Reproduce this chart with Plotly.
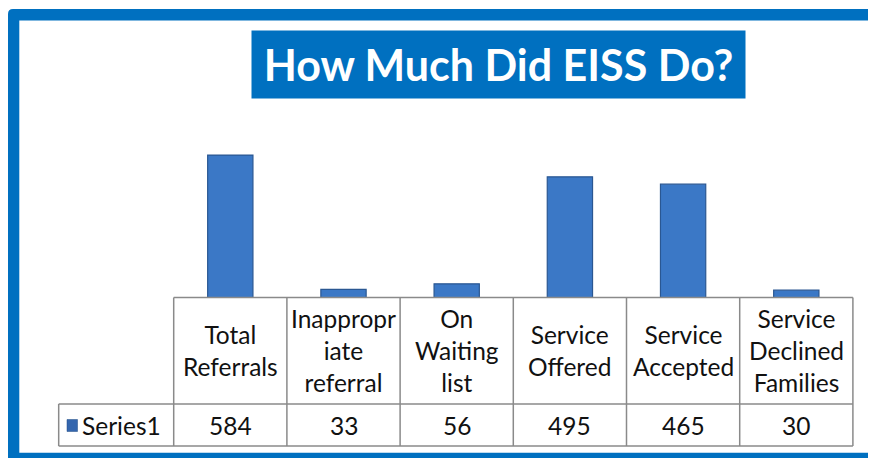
import plotly.graph_objects as go

# ---- data ----
categories = ["Total Referrals", "Inappropriate referral", "On Waiting list",
              "Service Offered", "Service Accepted", "Service Declined Families"]
header_labels = ["Total<br>Referrals", "Inappropr<br>iate<br>referral", "On<br>Waiting<br>list",
                 "Service<br>Offered", "Service<br>Accepted", "Service<br>Declined<br>Families"]
series_name = "Series1"
values = [584, 33, 56, 495, 465, 30]
title_text = "How Much Did EISS Do?"

# ---- layout helpers (window pixel -> paper); page body has an 8px margin ----
OFF = 8
W, H = 876 - OFF, 458 - OFF
def px(x):
    return (x - OFF) / W
def py(y):
    return 1 - (y - OFF) / H
def pt(x, y):
    return f"{px(x):.6f},{py(y):.6f}"

BLUE = "#0070C0"
GRID = "#8a8a8a"
TEXT = "#111111"
FONT = "Lato"

# table geometry (pixels / category units)
HEADER_TOP = 297.5
ROW_SPLIT = 404
TABLE_BOTTOM = 446
LABEL_COL = 1.016  # width of the series-label column in category units

fig = go.Figure()
fig.add_trace(go.Bar(
    x=categories, y=values, name=series_name, width=0.4,
    marker=dict(color="#3B78C6", line=dict(color="#2A5792", width=1.2)),
    hoverinfo="x+y", showlegend=False,
))

n = len(categories)
shapes = []
# outer frame as one filled outline (left / top / bottom edges)
frame_path = (f"M {pt(8, 460)} L {pt(8, 14)} Q {pt(8, 9)} {pt(13, 9)} L {pt(877, 9)} "
              f"L {pt(877, 20.6)} L {pt(19.3, 20.6)} L {pt(19.3, 452.7)} L {pt(877, 452.7)} "
              f"L {pt(877, 460)} Z")
shapes.append(dict(type="path", xref="paper", yref="paper", path=frame_path,
                   fillcolor=BLUE, line=dict(width=0), layer="above"))
# faint right edge
shapes.append(dict(type="line", xref="paper", yref="paper", x0=px(874.5), x1=px(874.5),
                   y0=py(21), y1=py(452), line=dict(color="#e0e0e0", width=1)))
# table grid
shapes.append(dict(type="line", xref="x", yref="paper", x0=-0.5, x1=n - 0.5,
                   y0=py(HEADER_TOP), y1=py(HEADER_TOP), line=dict(color=GRID, width=1.5)))
for yy in (ROW_SPLIT, TABLE_BOTTOM):
    shapes.append(dict(type="line", xref="x", yref="paper", x0=-0.5 - LABEL_COL, x1=n - 0.5,
                       y0=py(yy), y1=py(yy), line=dict(color=GRID, width=1.5)))
for i in range(n + 1):
    shapes.append(dict(type="line", xref="x", yref="paper", x0=i - 0.5, x1=i - 0.5,
                       y0=py(HEADER_TOP), y1=py(TABLE_BOTTOM), line=dict(color=GRID, width=1.5)))
shapes.append(dict(type="line", xref="x", yref="paper", x0=-0.5 - LABEL_COL, x1=-0.5 - LABEL_COL,
                   y0=py(ROW_SPLIT), y1=py(TABLE_BOTTOM), line=dict(color=GRID, width=1.5)))
# legend key
shapes.append(dict(type="rect", xref="paper", yref="paper",
                   x0=px(67), x1=px(77.5), y0=py(419.5), y1=py(431.5),
                   fillcolor="#3466AE", line=dict(color="#1F4A85", width=0.5)))

annotations = []
# title
annotations.append(dict(
    text=f"<b>{title_text}</b>", xref="paper", yref="paper",
    x=px(498.5), y=py(64.4), xanchor="center", yanchor="middle",
    showarrow=False, bgcolor=BLUE, width=493, height=67, borderpad=0,
    font=dict(family=FONT, size=43, color="white"),
))
# table header + values
for cat, lab, v in zip(categories, header_labels, values):
    annotations.append(dict(text=lab, xref="x", yref="paper", x=cat, y=py((HEADER_TOP + ROW_SPLIT) / 2),
                            xanchor="center", yanchor="middle", showarrow=False,
                            font=dict(family=FONT, size=24.5, color=TEXT)))
    annotations.append(dict(text=str(v), xref="x", yref="paper", x=cat, y=py((ROW_SPLIT + TABLE_BOTTOM) / 2),
                            xanchor="center", yanchor="middle", showarrow=False,
                            font=dict(family=FONT, size=24.5, color=TEXT)))
annotations.append(dict(text=series_name, xref="paper", yref="paper", x=px(80), y=py(425),
                        xanchor="left", yanchor="middle", showarrow=False,
                        font=dict(family=FONT, size=24.5, color=TEXT)))

# axes: 113.2 px per category, category -0.5 at x=173.7
PX_PER_CAT = 113.2
X0 = 173.7
xr = [-1.6, n - 0.4]
xd = [px(X0 + (xr[0] + 0.5) * PX_PER_CAT), px(X0 + (xr[1] + 0.5) * PX_PER_CAT)]
PX_PER_UNIT = 0.2438
yr = [0, 700]
yd = [py(HEADER_TOP), py(HEADER_TOP - yr[1] * PX_PER_UNIT)]

fig.update_layout(
    width=W, height=H, margin=dict(l=0, r=0, t=0, b=0),
    paper_bgcolor="white", plot_bgcolor="rgba(0,0,0,0)",
    xaxis=dict(domain=xd, range=xr, visible=False, fixedrange=True),
    yaxis=dict(domain=yd, range=yr, visible=False, fixedrange=True),
    shapes=shapes, annotations=annotations,
    font=dict(family=FONT, color=TEXT), showlegend=False,
)
fig.write_html("out.html")
